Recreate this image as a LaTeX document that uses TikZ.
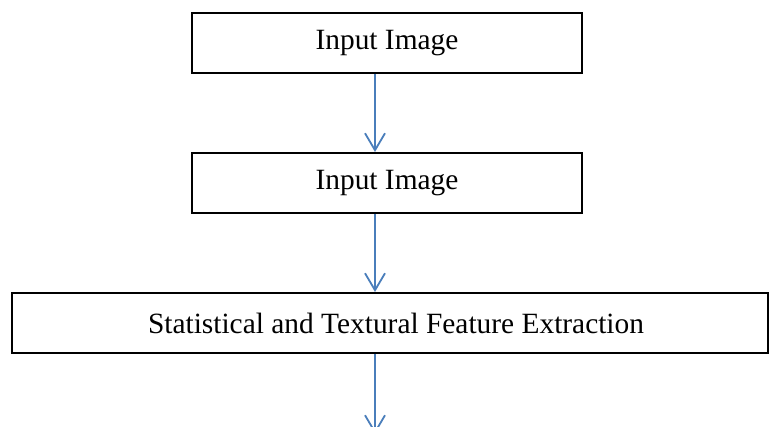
\documentclass[tikz,border=0pt]{standalone}
\usepackage{fontspec}
\setmainfont{Liberation Serif}
\usetikzlibrary{arrows.meta}
\definecolor{arrblue}{HTML}{4A7EBB}
\begin{document}
\begin{tikzpicture}[x=1pt,y=-1pt,
  box/.style={draw=black,line width=2pt,fill=white,minimum height=60pt,inner sep=0pt,
    font=\fontsize{29.4}{34}\selectfont},
  arr/.style={draw=arrblue,line width=1.8pt,-{Straight Barb[length=17pt,width=20pt,line width=1.8pt]}}]
\clip (0,0) rectangle (769,427);
\fill[white] (0,0) rectangle (769,427);
\node[box,minimum width=390pt] (n1) at (387,43) {Input Image};
\node[box,minimum width=390pt] (n2) at (387,183) {Input Image};
\node[box,minimum width=756pt] (n3) at (390,323) {\hspace*{12pt}Statistical and Textural Feature Extraction};
\coordinate (a1) at ([xshift=-12pt]n1.south);
\coordinate (a2) at ([xshift=-12pt]n2.south);
\coordinate (end) at (375,434);
\draw[arr] (a1) -- (a1 |- n2.north);
\draw[arr] (a2) -- (a2 |- n3.north);
\draw[arr] (end |- n3.south) -- (end);
\end{tikzpicture}
\end{document}
